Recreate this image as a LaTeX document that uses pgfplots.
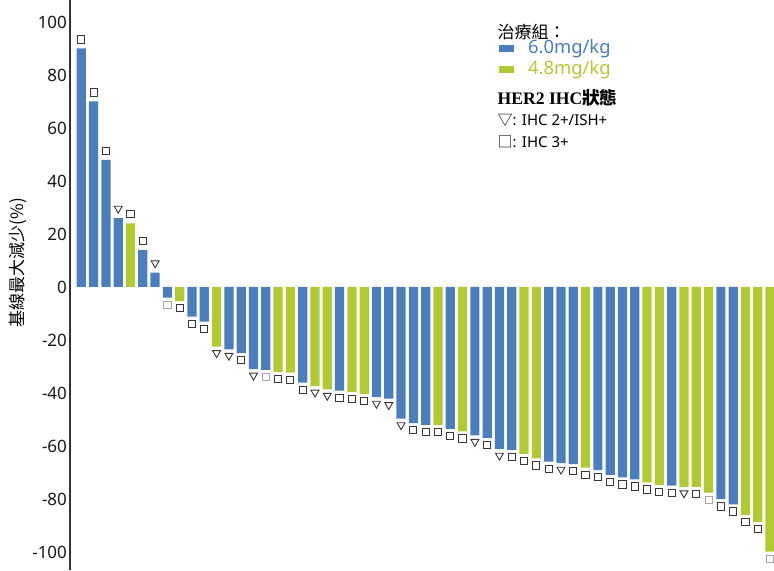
\documentclass[border=0pt]{standalone}
\usepackage{pgfplots}
\pgfplotsset{compat=1.18}
\usepackage{pgfplotstable}
\usepackage{fontspec}
\setmainfont{Noto Sans}
\newfontfamily\cjk{Noto Sans CJK TC}
\newfontfamily\tms{Liberation Serif}
\definecolor{barblue}{RGB}{74,126,189}
\definecolor{bargreen}{RGB}{178,202,50}
\definecolor{mk}{RGB}{55,55,55}

% x: patient, v: max change from baseline (%), g: 1=6.0mg/kg 2=4.8mg/kg
% m: HER2 status 1=IHC 2+/ISH+ 2=IHC 3+ 3=IHC 3+ (light mark)
\pgfplotstableread{
x v g m
1 90 1 2
2 70 1 2
3 48 1 2
4 26 1 1
5 24 2 2
6 14 1 2
7 5.4 1 1
8 -4 1 3
9 -5.3 2 2
10 -11.2 1 2
11 -13.1 1 2
12 -22.5 2 1
13 -23.5 1 1
14 -25 1 2
15 -31 1 1
16 -31.3 1 3
17 -32 2 2
18 -32.3 2 2
19 -36.1 1 2
20 -37.4 2 1
21 -38.6 2 1
22 -39.1 1 2
23 -39.6 2 2
24 -40.4 2 2
25 -41.6 1 1
26 -42.1 1 1
27 -49.7 1 1
28 -51.4 1 2
29 -52.1 1 2
30 -52.1 2 2
31 -53.5 1 2
32 -54.5 2 2
33 -56 1 1
34 -57 1 2
35 -61.2 1 1
36 -61.5 1 2
37 -63 2 2
38 -64.7 2 2
39 -65.9 1 2
40 -66.5 1 1
41 -66.8 1 2
42 -68.2 2 2
43 -69.1 1 2
44 -70.9 1 2
45 -71.8 1 2
46 -72.6 1 2
47 -73.7 2 2
48 -74.7 2 2
49 -75 1 2
50 -75.4 2 1
51 -75.4 2 2
52 -77.6 2 3
53 -80.1 1 2
54 -82 1 2
55 -86 2 2
56 -88.6 2 2
57 -99.9 2 3
}\data

\begin{document}
\begin{tikzpicture}
\begin{axis}[
  scale only axis,
  width=352pt, height=285pt,
  xmin=0.08, xmax=57.32,
  ymin=-106.8, ymax=108.3,
  axis x line=none,
  axis y line*=left,
  y axis line style={black!80, line width=0.7pt},
  ytick={-100,-80,...,100},
  tick align=outside,
  major tick length=2pt,
  ytick style={draw=none},
  /pgf/number format/assume math mode=true,
  yticklabel style={font=\fontsize{8.5}{10}\selectfont, text=black!90, xshift=4pt},
  ylabel={\cjk 基線最大減少(\%)},
  ylabel style={at={(axis description cs:-0.074,0.539)}, anchor=center,
    font=\fontsize{8.5}{10}\selectfont},
]
\addplot[ybar, bar width=0.75, fill=barblue, draw=none,
  restrict expr to domain={\thisrow{g}}{1:1}] table[x=x, y=v] {\data};
\addplot[ybar, bar width=0.75, fill=bargreen, draw=none,
  restrict expr to domain={\thisrow{g}}{2:2}] table[x=x, y=v] {\data};

\addplot[only marks, mark=triangle, mark size=2.3pt,
  mark options={draw=mk, line width=0.45pt, rotate=180},
  restrict expr to domain={\thisrow{m}}{1:1}]
  table[x=x, y expr={\thisrow{v}>0 ? \thisrow{v}+3.6 : \thisrow{v}-2.4}] {\data};
\addplot[only marks, mark=square, mark size=1.8pt,
  mark options={draw=mk, line width=0.5pt},
  restrict expr to domain={\thisrow{m}}{2:2}]
  table[x=x, y expr={\thisrow{v}>0 ? \thisrow{v}+3.4 : \thisrow{v}-2.7}] {\data};
\addplot[only marks, mark=square, mark size=1.8pt,
  mark options={draw=black!35, line width=0.45pt},
  restrict expr to domain={\thisrow{m}}{3:3}]
  table[x=x, y expr={\thisrow{v}>0 ? \thisrow{v}+3.4 : \thisrow{v}-2.7}] {\data};

% legend
\node[anchor=west, inner sep=0pt, font=\cjk\fontsize{8.5}{10}\selectfont]
  at (rel axis cs:0.607,0.944) {治療組：};
\node[anchor=west, inner sep=0pt, font=\fontsize{9.2}{11}\selectfont, text=barblue]
  at (rel axis cs:0.609,0.914) {\rule[0.15ex]{7.5pt}{3.8pt}\hspace{7pt}6.0mg/kg};
\node[anchor=west, inner sep=0pt, font=\fontsize{9.2}{11}\selectfont, text=bargreen]
  at (rel axis cs:0.609,0.877) {\rule[0.15ex]{7.5pt}{3.8pt}\hspace{7pt}4.8mg/kg};
\node[anchor=west, inner sep=0pt, font=\fontsize{8.8}{10}\selectfont]
  at (rel axis cs:0.607,0.828) {\tms\bfseries HER2 IHC\cjk 狀態};
\node[anchor=west, inner sep=0pt, font=\fontsize{7.5}{9}\selectfont]
  at (rel axis cs:0.607,0.789) {{\cjk ▽}: IHC 2+/ISH+};
\node[anchor=west, inner sep=0pt, font=\fontsize{7.5}{9}\selectfont]
  at (rel axis cs:0.607,0.751) {{\cjk □}: IHC 3+};
\end{axis}
\pgfresetboundingbox
\path[use as bounding box] ([xshift=-35pt]current axis.south west) rectangle (current axis.north east);
\end{tikzpicture}
\end{document}
